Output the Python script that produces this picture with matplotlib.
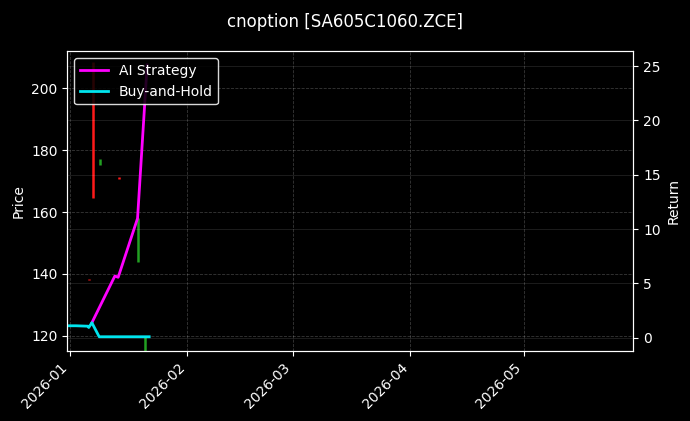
import matplotlib
matplotlib.use("Agg")
import matplotlib.pyplot as plt
import matplotlib.dates as mdates
import pandas as pd

# candle data (price axis)
candle_dates = ["2026-01-06 01:00", "2026-01-06 21:30", "2026-01-08 20:00",
                "2026-01-13 20:30", "2026-01-18 19:00", "2026-01-20 19:00"]
candle_open = [138.2, 208.5, 175.4, 171.2, 144.0, 112.0]
candle_close = [138.0, 165.0, 177.0, 170.8, 158.0, 119.7]
candle_high = [138.2, 208.5, 177.1, 171.2, 158.0, 119.7]
candle_low = [138.0, 164.5, 175.2, 170.8, 143.9, 112.0]

# strategy returns (return axis)
ai_dates = ["2026-01-06 17:00", "2026-01-12 19:00", "2026-01-13 16:00",
            "2026-01-18 19:00", "2026-01-21 08:00"]
ai_return = [1.38, 5.68, 5.56, 10.98, 25.1]

bh_dates = ["2025-12-31 00:00", "2026-01-02 12:00", "2026-01-05 17:00",
            "2026-01-05 21:00", "2026-01-06 17:00", "2026-01-08 15:30",
            "2026-01-13 16:00", "2026-01-18 19:00", "2026-01-21 21:00"]
bh_return = [1.10, 1.10, 1.06, 0.94, 1.38, 0.09, 0.09, 0.09, 0.09]

c_dates = pd.to_datetime(candle_dates)
ai_x = pd.to_datetime(ai_dates)
bh_x = pd.to_datetime(bh_dates)

plt.style.use("dark_background")
fig = plt.figure(figsize=(6.9, 4.21), dpi=100)
ax = fig.add_axes([0.0975, 0.1663, 0.8205, 0.7117])
ax2 = ax.twinx()

colors = ["#22a022" if c >= o else "#ff1a1a" for o, c in zip(candle_open, candle_close)]
ax.vlines(c_dates, candle_low, candle_high, colors=colors, linewidth=1.8)

ax2.plot(ai_x, ai_return, color="#ff00ff", linewidth=2, label="AI Strategy")
ax2.plot(bh_x, bh_return, color="#00e5ee", linewidth=2, label="Buy-and-Hold")

x0 = mdates.date2num(pd.Timestamp("2026-01-01"))
ax.set_xlim(x0 - 0.8, x0 + 149.0)
ax.set_ylim(115.05, 211.96)
ax2.set_ylim(-1.22, 26.35)

ax.xaxis.set_major_locator(mdates.MonthLocator())
ax.xaxis.set_major_formatter(mdates.DateFormatter("%Y-%m"))
plt.setp(ax.get_xticklabels(), rotation=45, ha="right")

ax.grid(True, linestyle="--", color="white", alpha=0.22, linewidth=0.6)
ax2.grid(True, axis="y", linestyle="-", color="white", alpha=0.13, linewidth=0.6)

ax.set_ylabel("Price")
ax2.set_ylabel("Return")

ax2.legend(loc="upper left", facecolor="black", edgecolor="white", framealpha=0.85)
fig.suptitle("cnoption [SA605C1060.ZCE]", fontsize=12, y=0.97)

fig.savefig("out.png", dpi=100, facecolor="black")
